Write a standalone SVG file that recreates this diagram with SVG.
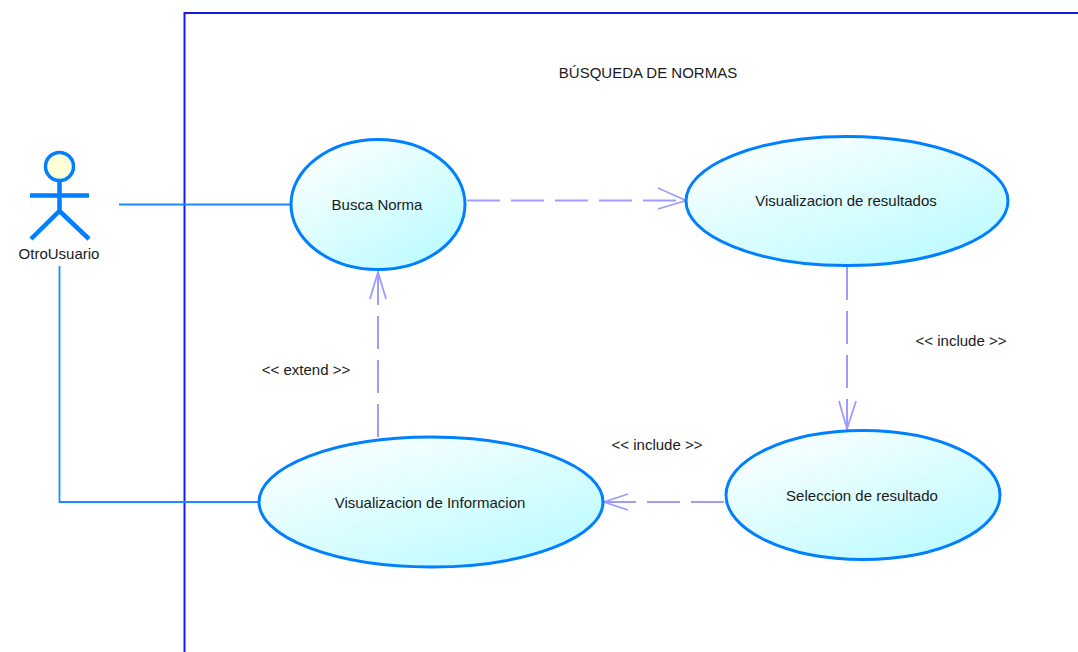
<svg xmlns="http://www.w3.org/2000/svg" width="1078" height="652" viewBox="0 0 1078 652">
<style>
text{font-family:"Liberation Sans",Arial,sans-serif;font-size:15px;fill:#1a1a1a;text-anchor:middle}
.uc{fill:url(#g);stroke:#0080ff;stroke-width:3}
.assoc{fill:none;stroke:#1a8cff;stroke-width:1.8}
.dep{fill:none;stroke:#9d9dff;stroke-width:2;stroke-dasharray:33 11}
.head{fill:none;stroke:#9d9dff;stroke-width:1.8}
.act{fill:none;stroke:#0080ff;stroke-width:4.5}
</style>
<defs>
<linearGradient id="g" x1="0.1" y1="0" x2="0.9" y2="1"><stop offset="0" stop-color="#ffffff"/><stop offset="1" stop-color="#b8fbff"/></linearGradient>
</defs>
<rect width="1078" height="652" fill="#fff"/>
<g id="boundary"><path d="M1078 13H184.500V652" fill="none" stroke="#1a1ae6" stroke-width="2"/><text x="648" y="78">BÚSQUEDA DE NORMAS</text></g>
<g id="connectors">
<path class="assoc" d="M119 204.500H291"/>
<path class="assoc" d="M59.500 266V502H259"/>
<path class="dep" d="M467 200.500H686"/>
<path class="head" d="M658 188L686 200.500L658 209"/>
<path class="dep" d="M847 267V430"/>
<path class="head" d="M839 401L847 429L856 401"/>
<path class="dep" d="M724 502H604"/>
<path class="head" d="M628 494L604 502L628 510"/>
<path class="dep" d="M378 437V272"/>
<path class="head" d="M370 299L378 272L386 299"/>
<text x="306" y="375">&lt;&lt; extend &gt;&gt;</text>
<text x="961" y="346">&lt;&lt; include &gt;&gt;</text>
<text x="657" y="450">&lt;&lt; include &gt;&gt;</text>
</g>
<g id="actor">
<circle cx="59.500" cy="166.500" r="14" fill="#ffffd8" stroke="#0080ff" stroke-width="3.500"/>
<path class="act" d="M59.500 181V211M30 195.500H89M31 239L59.500 211L89 239"/>
<text x="59" y="259">OtroUsuario</text>
</g>
<g id="uc1"><ellipse class="uc" cx="378" cy="204.500" rx="87" ry="65"/><text x="377" y="210">Busca Norma</text></g>
<g id="uc2"><ellipse class="uc" cx="847" cy="201" rx="161" ry="64.500"/><text x="846" y="206">Visualizacion de resultados</text></g>
<g id="uc3"><ellipse class="uc" cx="863" cy="495" rx="137" ry="64.500"/><text x="862" y="501">Seleccion de resultado</text></g>
<g id="uc4"><ellipse class="uc" cx="431" cy="502" rx="172" ry="65"/><text x="430" y="508">Visualizacion de Informacion</text></g>
</svg>
